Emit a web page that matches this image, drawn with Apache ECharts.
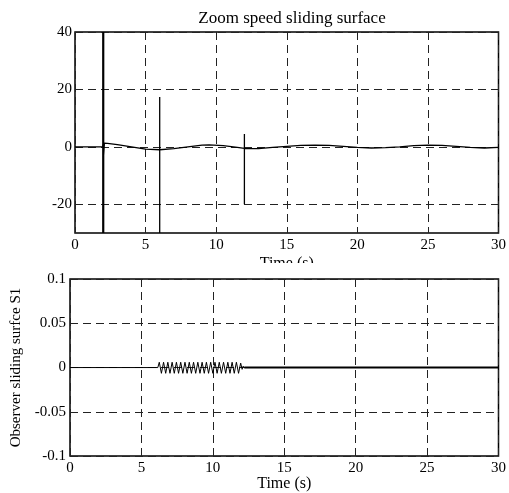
<!DOCTYPE html>
<html><head><meta charset="utf-8">
<script src="https://cdn.jsdelivr.net/npm/echarts@6/dist/echarts.min.js"></script>
<style>html,body{margin:0;padding:0;background:#fff}#c{width:509px;height:493px}</style>
</head><body><div id="c"></div>
<script>
// ---- data ----
const topTitle = 'Zoom speed sliding surface';
const xName = 'Time (s)';
const bottomYName = 'Observer sliding surfce S1';
const topYTicks = [-20, 0, 20, 40];
// zoom speed sliding surface (t, value); repeated t = switching spike
const topCurve = [
  [0,0],[1.95,0],[2.05,1.3],[2.3,1.2],[3,0.8],[4,0],[5,-0.8],[6,-1],
  [6,17.4],[6,-30],[6,-1],[7,-0.6],[8,0],[9,0.6],[9.5,0.7],[10.5,0.4],[11.5,-0.2],[12,-0.5],
  [12,4.5],[12,-20],[12,-0.5],[13,-0.6],[14,-0.2],[15,0.2],[16,0.5],[17,0.6],[18,0.5],[19,0.2],
  [20,-0.2],[21,-0.4],[22,-0.3],[23,0],[24,0.4],[25,0.6],[26,0.5],[27,0.2],[28,-0.2],[29,-0.4],[30,-0.2]
];
const topSpike = [[2,0],[2,40],[2,-30],[2,-3],[2.05,1.3]];
// observer sliding surface S1
const obsCalm = [[0,0],[6.15,0]];
const obsOsc = [
  [6.15,0],[6.25,0.006],[6.4,-0.0065],[6.55,0.006],[6.7,-0.0065],[6.85,0.006],[7.0,-0.0065],
  [7.15,0.006],[7.3,-0.0065],[7.45,0.006],[7.6,-0.0065],[7.75,0.006],[7.9,-0.0065],[8.05,0.006],
  [8.2,-0.0065],[8.35,0.006],[8.5,-0.0065],[8.65,0.006],[8.8,-0.0065],[8.95,0.006],[9.1,-0.0065],
  [9.25,0.006],[9.4,-0.0065],[9.55,0.006],[9.7,-0.0065],[9.85,0.006],[10.0,-0.0065],[10.15,0.006],
  [10.3,-0.0065],[10.45,0.006],[10.6,-0.0065],[10.75,0.006],[10.9,-0.0065],[11.05,0.006],[11.2,-0.0065],
  [11.35,0.006],[11.5,-0.0065],[11.65,0.006],[11.8,-0.0065],[11.95,0.005],[12.05,-0.002],[12.12,0.0015],[12.2,0]
];
const obsChatter = [[12.2,0],[30,0]];

const font = 'Liberation Serif, Times New Roman, serif';
const lbl = {color:'#000', fontFamily:font, fontSize:15};
const nm = {color:'#000', fontFamily:font, fontSize:16};
const dash = {show:true, lineStyle:{color:'#222', type:[8,5], width:1}};
const chart = echarts.init(document.getElementById('c'), null, {renderer:'canvas'});
chart.setOption({
  animation:false,
  backgroundColor:'#fff',
  title:{text:topTitle, left:287, top:5, textAlign:'center',
    textStyle:{color:'#000', fontFamily:font, fontSize:17, fontWeight:'normal'}},
  grid:[
    {left:75, top:32, width:424, height:201, show:true, borderColor:'#000', borderWidth:1.5, backgroundColor:'#fff'},
    {left:70, top:279, width:433, height:179, show:true, borderColor:'#000', borderWidth:1.5, backgroundColor:'#fff'}
  ],
  xAxis:[
    {gridIndex:0, type:'value', min:0, max:30, interval:5,
     name:xName, nameLocation:'middle', nameGap:23, nameTextStyle:nm,
     axisLine:{show:false}, axisTick:{show:false},
     axisLabel:Object.assign({margin:5}, lbl), splitLine:dash},
    {gridIndex:1, type:'value', min:0, max:30, interval:5,
     name:xName, nameLocation:'middle', nameGap:18, nameTextStyle:nm,
     axisLine:{show:false}, axisTick:{show:false},
     axisLabel:Object.assign({margin:4}, lbl), splitLine:dash}
  ],
  yAxis:[
    {gridIndex:0, type:'value', min:-30, max:40,
     axisLine:{show:false}, axisTick:{show:false, customValues:topYTicks},
     axisLabel:Object.assign({margin:3, customValues:topYTicks}, lbl), splitLine:dash},
    {gridIndex:1, type:'value', min:-0.1, max:0.1, interval:0.05,
     name:bottomYName, nameLocation:'middle', nameGap:46, nameTextStyle:Object.assign({}, nm, {fontSize:15}),
     axisLine:{show:false}, axisTick:{show:false},
     axisLabel:Object.assign({margin:4}, lbl), splitLine:dash}
  ],
  series:[
    {type:'line', xAxisIndex:0, yAxisIndex:0, data:topCurve, showSymbol:false, lineStyle:{color:'#000', width:1.3}, clip:true},
    {type:'line', xAxisIndex:0, yAxisIndex:0, data:topSpike, showSymbol:false, lineStyle:{color:'#000', width:2.2}, clip:true},
    {type:'line', xAxisIndex:1, yAxisIndex:1, data:obsCalm, showSymbol:false, lineStyle:{color:'#000', width:1}},
    {type:'line', xAxisIndex:1, yAxisIndex:1, data:obsOsc, showSymbol:false, lineStyle:{color:'#000', width:1}},
    {type:'line', xAxisIndex:1, yAxisIndex:1, data:obsChatter, showSymbol:false, lineStyle:{color:'#000', width:2}}
  ],
  graphic:[{type:'rect', z:100, shape:{x:230, y:263, width:120, height:14}, style:{fill:'#fff'}}]
});
</script></body></html>
